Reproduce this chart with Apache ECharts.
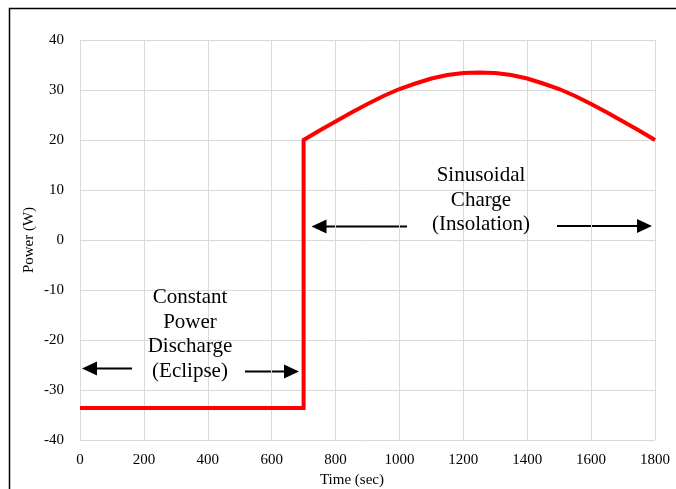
<!DOCTYPE html>
<html><head><meta charset="utf-8">
<script src="https://cdn.jsdelivr.net/npm/echarts@6/dist/echarts.min.js"></script>
<style>html,body{margin:0;padding:0;background:#fff}#c{width:676px;height:489px}</style>
</head><body><div id="c"></div>
<script>
// Time (sec) and power (W)
const timeSec = [0, 700, 700, 750, 800, 850, 900, 950, 1000, 1050, 1100, 1150, 1200, 1250, 1300, 1350, 1400, 1450, 1500, 1550, 1600, 1650, 1700, 1750, 1800];
const powerW  = [-33.6, -33.6, 20.0, 21.9, 23.7, 25.5, 27.2, 28.8, 30.2, 31.3, 32.3, 33.0, 33.4, 33.5, 33.4, 33.0, 32.3, 31.3, 30.2, 28.8, 27.2, 25.5, 23.7, 21.9, 20.0];
const xTicks = {min: 0, max: 1800, interval: 200};
const yTicks = {min: -40, max: 40, interval: 10};
const dischargeLabel = 'Constant\nPower\nDischarge\n(Eclipse)';
const chargeLabel = 'Sinusoidal\nCharge\n(Insolation)';
const xTitle = 'Time (sec)';
const yTitle = 'Power (W)';

const FONT = "'Liberation Serif','Times New Roman',serif";
const chart = echarts.init(document.getElementById('c'), null, {renderer: 'canvas'});

function arrow(x1, y, x2) {
  const dir = x2 > x1 ? 1 : -1;
  const head = 15, half = 7;
  return [
    {type: 'line', shape: {x1: x1, y1: y, x2: x2 - dir * head + dir * 1, y2: y}, style: {stroke: '#000', lineWidth: 2}},
    {type: 'polygon', shape: {points: [[x2, y], [x2 - dir * head, y - half], [x2 - dir * head, y + half]]}, style: {fill: '#000'}}
  ];
}

chart.setOption({
  animation: false,
  grid: {left: 80, right: 21, top: 40, bottom: 49, containLabel: false},
  xAxis: {
    type: 'value', min: xTicks.min, max: xTicks.max, interval: xTicks.interval,
    axisLine: {show: true, lineStyle: {color: '#d9d9d9', width: 1}},
    axisTick: {show: false},
    splitLine: {show: true, lineStyle: {color: '#d9d9d9', width: 1}},
    axisLabel: {color: '#000', fontFamily: FONT, fontSize: 15, margin: 13, formatter: v => String(v)}
  },
  yAxis: {
    type: 'value', min: yTicks.min, max: yTicks.max, interval: yTicks.interval,
    axisLine: {show: true, lineStyle: {color: '#d9d9d9', width: 1}},
    axisTick: {show: false},
    splitLine: {show: true, lineStyle: {color: '#d9d9d9', width: 1}},
    axisLabel: {color: '#000', fontFamily: FONT, fontSize: 15, margin: 16, formatter: v => String(v)}
  },
  series: [{
    type: 'line',
    data: timeSec.map((t, i) => [t, powerW[i]]),
    showSymbol: false,
    smooth: false,
    lineStyle: {color: '#ff0000', width: 4, join: 'miter'},
    z: 5
  }],
  graphic: [
    {type: 'rect', shape: {x: 9.5, y: 8.5, width: 700, height: 520}, style: {fill: null, stroke: '#000', lineWidth: 1.5}, silent: true},
    {type: 'text', x: 352, y: 480, style: {text: xTitle, font: '15px ' + FONT, fill: '#000', align: 'center', verticalAlign: 'middle'}},
    {type: 'text', x: 29, y: 240, rotation: Math.PI / 2, style: {text: yTitle, font: '15px ' + FONT, fill: '#000', align: 'center', verticalAlign: 'middle'}},
    {type: 'text', x: 190, y: 334.5, z: 10, style: {text: dischargeLabel, font: '21px ' + FONT, fill: '#000', align: 'center', verticalAlign: 'middle', lineHeight: 24.7}},
    {type: 'text', x: 481, y: 200, z: 10, style: {text: chargeLabel, font: '21px ' + FONT, fill: '#000', align: 'center', verticalAlign: 'middle', lineHeight: 24.7}},
    ...arrow(132, 368.5, 82),
    ...arrow(245, 371.5, 299),
    ...arrow(407, 226.5, 311.5),
    ...arrow(557, 226, 652)
  ]
});
</script>
</body></html>
